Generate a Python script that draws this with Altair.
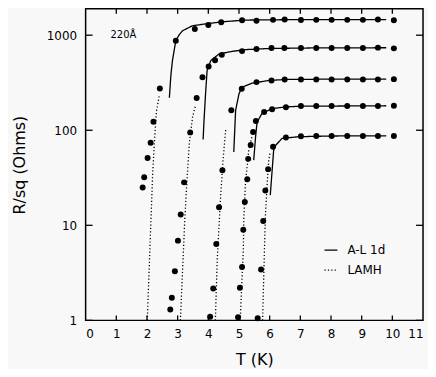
import altair as alt
import pandas as pd

# ---------------- data ----------------
# measured points (T in K, R/sq in Ohms), one list pair per film
s1_T = [1.86, 1.91, 2.02, 2.12, 2.21, 2.42, 2.94, 3.56, 4.00, 4.42, 5.10, 5.57, 6.11, 6.49, 7.02, 7.52, 8.02, 8.53, 9.04, 9.53, 10.05]
s1_R = [25, 32, 51, 74, 123, 275, 876, 1160, 1280, 1370, 1440, 1420, 1450, 1460, 1445, 1450, 1450, 1450, 1450, 1460, 1435]
s2_T = [2.76, 2.81, 2.91, 3.01, 3.10, 3.21, 3.41, 3.62, 3.81, 4.01, 4.22, 4.44, 5.10, 5.57, 6.06, 6.48, 7.02, 7.52, 8.02, 8.53, 9.04, 9.53, 10.05]
s2_R = [1.30, 1.73, 3.28, 6.9, 13.0, 28.3, 95, 218, 361, 468, 545, 621, 680, 717, 734, 734, 734, 734, 734, 734, 734, 740, 727]
s3_T = [4.06, 4.16, 4.26, 4.35, 4.46, 4.75, 5.09, 5.57, 6.06, 6.49, 7.02, 7.52, 8.02, 8.53, 9.04, 9.53, 10.05]
s3_R = [1.09, 2.16, 6.35, 15.5, 38, 162, 274, 321, 334, 342, 342, 342, 342, 342, 342, 342, 345]
s4_T = [4.97, 5.03, 5.10, 5.14, 5.19, 5.27, 5.30, 5.38, 5.46, 5.55, 5.82, 6.08, 6.53, 7.02, 7.52, 8.02, 8.53, 9.04, 9.53, 10.05]
s4_R = [1.08, 2.2, 3.65, 9.0, 17.6, 30.5, 50, 70, 96, 125, 156, 166, 175, 180, 180, 180, 180, 180, 180, 181]
s5_T = [5.61, 5.72, 5.79, 5.86, 5.95, 6.11, 6.53, 7.02, 7.52, 8.02, 8.53, 9.04, 9.53, 10.05]
s5_R = [1.05, 3.42, 11.1, 23.2, 39, 67, 84, 86.5, 87, 87, 87, 87, 87, 87]

# A-L 1d fits (solid)
al1_T = [2.73, 2.78, 2.83, 2.94, 3.05, 3.16, 3.48, 4.02, 4.45, 5.21, 6.5, 8.0, 9.8]
al1_R = [220, 380, 540, 876, 1010, 1114, 1256, 1330, 1384, 1443, 1455, 1458, 1460]
al2_T = [3.83, 3.86, 3.91, 3.96, 4.08, 4.35, 4.78, 5.21, 6.0, 7.5, 9.8]
al2_R = [80, 127, 242, 425, 541, 635, 676, 705, 725, 735, 738]
al3_T = [4.83, 4.89, 5.00, 5.10, 5.43, 5.97, 6.51, 8.0, 9.8]
al3_R = [59, 162, 242, 284, 313, 334, 342, 345, 345]
al4_T = [5.48, 5.54, 5.59, 5.75, 6.08, 6.51, 7.0, 9.8]
al4_R = [48.5, 85, 122, 150, 169, 176, 179, 181]
al5_T = [6.02, 6.13, 6.19, 6.40, 6.94, 8.0, 9.8]
al5_R = [20.8, 61.7, 69, 82, 85.5, 87, 87.5]

# LAMH fits (dotted)
lm1_T = [2.01, 2.13, 2.18, 2.24, 2.31, 2.40]
lm1_R = [1.0, 11.4, 32, 73, 160, 230]
lm2_T = [3.09, 3.23, 3.31, 3.38, 3.49, 3.58]
lm2_R = [1.0, 11.0, 32, 73, 140, 180]
lm3_T = [4.23, 4.29, 4.36, 4.40, 4.48, 4.57]
lm3_R = [1.0, 4.35, 11.4, 20, 48.5, 104]
lm4_T = [5.04, 5.14, 5.16, 5.21, 5.32, 5.42]
lm4_R = [1.0, 5.5, 12.4, 27.7, 61.8, 85]
lm5_T = [5.77, 5.83, 5.86, 5.92, 5.97, 6.02]
lm5_R = [1.0, 5.5, 12.4, 27.7, 48.5, 60]

x_ticks = [1, 2, 3, 4, 5, 6, 7, 8, 9, 10]
x_labels = [0, 1, 2, 3, 4, 5, 6, 7, 8, 9, 10, 11]
y_ticks = [1, 10, 100, 1000]
model_names = ["A-L 1d", "LAMH"]
film_label = "220Å"

# ---------------- tables ----------------
pts = []
for i, (T, R) in enumerate([(s1_T, s1_R), (s2_T, s2_R), (s3_T, s3_R), (s4_T, s4_R), (s5_T, s5_R)]):
    for t, r in zip(T, R):
        pts.append({"T": t, "R": r, "series": i})
pts = pd.DataFrame(pts)

curves = []
for model, sets in [(model_names[0], [(al1_T, al1_R), (al2_T, al2_R), (al3_T, al3_R), (al4_T, al4_R), (al5_T, al5_R)]),
                    (model_names[1], [(lm1_T, lm1_R), (lm2_T, lm2_R), (lm3_T, lm3_R), (lm4_T, lm4_R), (lm5_T, lm5_R)])]:
    for i, (T, R) in enumerate(sets):
        for k, (t, r) in enumerate(zip(T, R)):
            curves.append({"T": t, "R": r, "curve": f"{model}-{i}", "model": model, "k": k})
curves = pd.DataFrame(curves)

xt = pd.DataFrame({"T": x_ticks})
yt = pd.DataFrame({"R": y_ticks})

W, H = 339, 313
FONT = "DejaVu Sans"

x_enc = alt.X("T:Q", title="T (K)",
              scale=alt.Scale(domain=[0, 11], nice=False, zero=False),
              axis=alt.Axis(values=x_labels, format="d", ticks=False, domain=False, grid=False,
                            labelPadding=8, titlePadding=12, labelFontSize=12, titleFontSize=16))
y_enc = alt.Y("R:Q", title="R/sq (Ohms)",
              scale=alt.Scale(type="log", domain=[1, 1893], nice=False),
              axis=alt.Axis(values=y_ticks, format="d", ticks=False, domain=False, grid=False,
                            labelPadding=9, titlePadding=19, labelFontSize=12, titleFontSize=16))

lines = alt.Chart(curves).mark_line(color="black", strokeWidth=1.3).encode(
    x=x_enc, y=y_enc, detail="curve:N", order="k:Q",
    strokeDash=alt.StrokeDash("model:N",
        scale=alt.Scale(domain=model_names, range=[[1, 0], [1.2, 2.2]]),
        legend=alt.Legend(title=None, orient="none", legendX=239, legendY=235,
                          symbolType="stroke", symbolSize=169, symbolStrokeWidth=1.2,
                          symbolStrokeColor="black", labelFontSize=12, labelFont=FONT,
                          labelColor="black", labelOffset=9, rowPadding=6, padding=0)),
)

dots = alt.Chart(pts).mark_circle(color="black", size=36, opacity=1).encode(x=x_enc, y=y_enc)

tick_bottom = alt.Chart(xt).mark_rule(color="black", strokeWidth=1.3).encode(
    x=x_enc, y=alt.value(H), y2=alt.value(H - 5))
tick_top = alt.Chart(xt).mark_rule(color="black", strokeWidth=1.3).encode(
    x=x_enc, y=alt.value(0), y2=alt.value(5))
tick_left = alt.Chart(yt).mark_rule(color="black", strokeWidth=1.3).encode(
    y=y_enc, x=alt.value(0), x2=alt.value(7))
tick_right = alt.Chart(yt).mark_rule(color="black", strokeWidth=1.3).encode(
    y=y_enc, x=alt.value(W), x2=alt.value(W - 7))

label = alt.Chart(pd.DataFrame({"t": [film_label]})).mark_text(
    align="left", baseline="alphabetic", fontSize=10, font=FONT, color="black"
).encode(x=alt.value(25), y=alt.value(29), text="t:N")

chart = alt.layer(tick_bottom, tick_top, tick_left, tick_right, lines, dots, label).properties(
    width=W, height=H,
    autosize=alt.AutoSizeParams(type="none"),
    padding={"left": 78, "top": 0, "right": 5, "bottom": 48},
    background="#f8f8f8",
).configure_view(stroke="black", strokeWidth=1.5).configure_axis(
    labelFont=FONT, titleFont=FONT, labelColor="black", titleColor="black",
    titleFontWeight="normal"
)

chart.save("out.html", embed_options={"renderer": "svg", "actions": False})
